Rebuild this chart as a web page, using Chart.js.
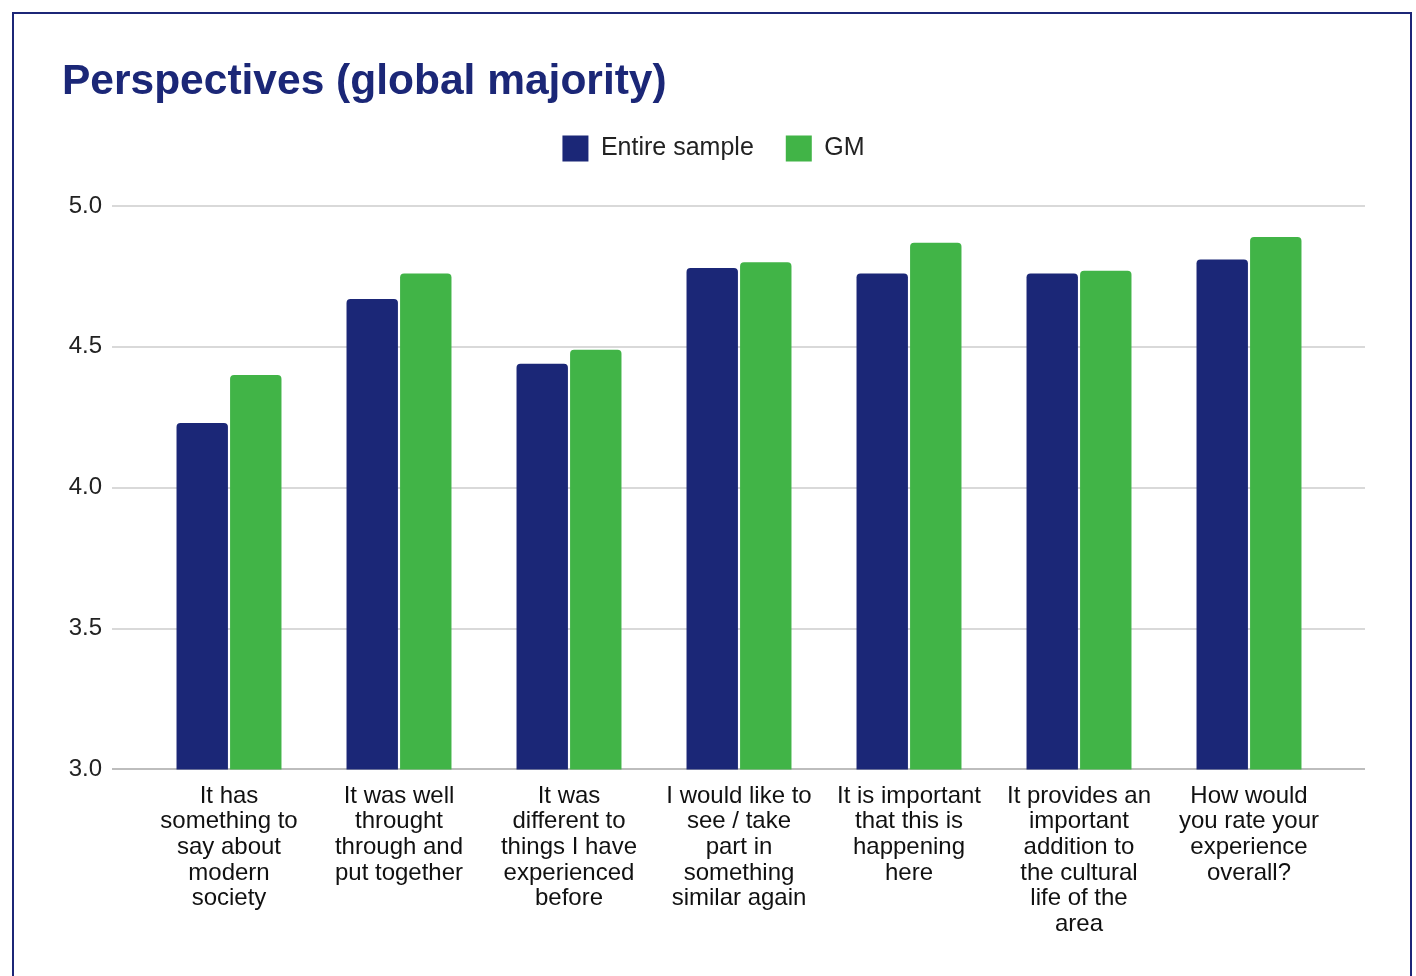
<!DOCTYPE html>
<html>
<head>
<meta charset="utf-8">
<script src="https://cdn.jsdelivr.net/npm/chart.js@4/dist/chart.umd.min.js"></script>
<style>
    html, body { margin: 0; padding: 0; background: #fff; overflow: hidden; }
    .frame {
        position: absolute;
        left: 12px;
        top: 12px;
        width: 1396px;
        height: 980px;
        border: 2px solid #1c2677;
        border-bottom: none;
        background: #fff;
    }
    .chart-box {
        position: relative;
        width: 1396px;
        height: 962px;
    }
</style>
</head>
<body>
<div class="frame">
    <div class="chart-box">
        <canvas id="chartPerspectives"></canvas>
    </div>
</div>
<script>
const categories = [
    ['It has', 'something to', 'say about', 'modern', 'society'],
    ['It was well', 'throught', 'through and', 'put together'],
    ['It was', 'different to', 'things I have', 'experienced', 'before'],
    ['I would like to', 'see / take', 'part in', 'something', 'similar again'],
    ['It is important', 'that this is', 'happening', 'here'],
    ['It provides an', 'important', 'addition to', 'the cultural', 'life of the', 'area'],
    ['How would', 'you rate your', 'experience', 'overall?']
];
const entireSample = [4.23, 4.67, 4.44, 4.78, 4.76, 4.76, 4.81];
const gmValues = [4.40, 4.76, 4.49, 4.80, 4.87, 4.77, 4.89];
const yTicks = [3.0, 3.5, 4.0, 4.5, 5.0];

const navy = '#1b2777';
const green = '#41b447';
const fontFamily = '"Liberation Sans", Arial, sans-serif';

function gridColor(ctx) {
    if (ctx.tick && ctx.tick.value === 3) return '#bdbdbd';
    return '#d9d9d9';
}

// extra space below the legend
const legendSpace = {
    id: 'legendSpace',
    beforeInit(chart) {
        const fit = chart.legend.fit;
        chart.legend.fit = function () {
            fit.bind(chart.legend)();
            this.height = 102.5;
        };
    }
};

document.addEventListener('DOMContentLoaded', function () {
    const ctx = document.getElementById('chartPerspectives');

    new Chart(ctx, {
        type: 'bar',
        data: {
            labels: categories,
            datasets: [
                {
                    label: 'Entire sample',
                    data: entireSample,
                    backgroundColor: navy,
                    borderRadius: { topLeft: 4, topRight: 4 },
                    borderSkipped: 'bottom'
                },
                {
                    label: 'GM',
                    data: gmValues,
                    backgroundColor: green,
                    borderRadius: { topLeft: 4, topRight: 4 },
                    borderSkipped: 'bottom'
                }
            ]
        },
        options: {
            responsive: true,
            maintainAspectRatio: false,
            animation: false,
            categoryPercentage: 0.63,
            barPercentage: 0.96,
            layout: {
                padding: { left: 48, right: 45, top: 0, bottom: 25 }
            },
            plugins: {
                title: {
                    display: true,
                    text: 'Perspectives (global majority)',
                    align: 'start',
                    color: '#1b2777',
                    font: { family: fontFamily, size: 42.5, weight: 'bold', lineHeight: 1.0 },
                    padding: { top: 47, bottom: 0 }
                },
                legend: {
                    display: true,
                    position: 'top',
                    labels: {
                        boxWidth: 26,
                        boxHeight: 26,
                        padding: 32,
                        color: '#222',
                        font: { family: fontFamily, size: 25 }
                    }
                },
                tooltip: { enabled: false }
            },
            scales: {
                x: {
                    grid: { display: false, drawTicks: false },
                    border: { display: false },
                    ticks: {
                        color: '#111',
                        padding: 14,
                        maxRotation: 0,
                        autoSkip: false,
                        font: { family: fontFamily, size: 24, lineHeight: 1.066 }
                    }
                },
                y: {
                    min: 3,
                    max: 5,
                    afterBuildTicks(scale) {
                        scale.ticks = yTicks.map(v => ({ value: v }));
                    },
                    afterFit(scale) {
                        scale.width = 82;
                    },
                    grid: {
                        color: gridColor,
                        lineWidth: 2,
                        drawTicks: true,
                        tickLength: 32
                    },
                    border: { display: false },
                    ticks: {
                        color: '#222',
                        padding: 10,
                        font: { family: fontFamily, size: 24 },
                        callback: v => v.toFixed(1)
                    }
                },
                y2: {
                    position: 'right',
                    min: 3,
                    max: 5,
                    afterBuildTicks(scale) {
                        scale.ticks = yTicks.map(v => ({ value: v }));
                    },
                    afterFit(scale) {
                        scale.width = 31;
                    },
                    grid: {
                        color: gridColor,
                        lineWidth: 2,
                        drawOnChartArea: false,
                        drawTicks: true,
                        tickLength: 31
                    },
                    border: { display: false },
                    ticks: { display: false }
                }
            }
        },
        plugins: [legendSpace]
    });
});
</script>
</body>
</html>
